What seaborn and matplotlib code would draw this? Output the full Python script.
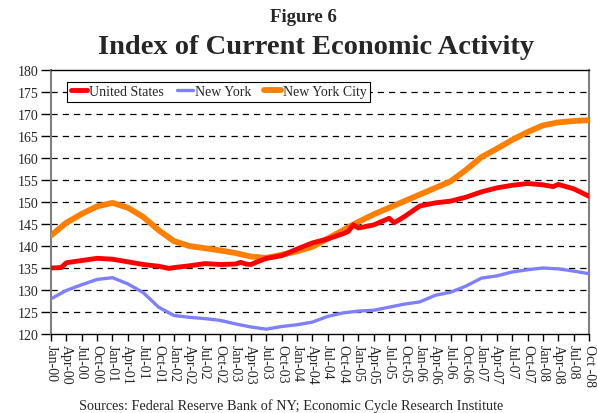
import pandas as pd
import numpy as np
import matplotlib
matplotlib.use('Agg')
import matplotlib.pyplot as plt
import seaborn as sns

sns.set_style('white')
plt.rcParams['font.family'] = ['Liberation Serif', 'DejaVu Serif']

# quarterly points, month index from Jan-00
q_months = list(range(0, 106, 3))

nyc = [142.4, 145.3, 147.3, 149.0, 149.8, 148.7, 146.6, 143.6, 141.1, 140.0,
       139.5, 139.0, 138.4, 137.6, 137.3, 138.0, 138.8, 139.8, 141.7, 143.6,
       145.5, 147.2, 148.7, 150.2, 151.7, 153.2, 154.7, 157.3, 160.2, 162.1,
       164.1, 165.9, 167.4, 168.1, 168.4, 168.6]

ny = [128.0, 129.9, 131.2, 132.4, 132.8, 131.4, 129.4, 126.1, 124.2, 123.8,
      123.5, 123.1, 122.3, 121.6, 121.1, 121.7, 122.1, 122.7, 124.0, 124.8,
      125.2, 125.4, 126.1, 126.8, 127.3, 128.8, 129.5, 130.9, 132.7, 133.2,
      134.1, 134.6, 135.0, 134.8, 134.3, 133.7]

us_months = [0, 2, 3, 6, 9, 12, 15, 18, 21, 23, 24, 27, 30, 33, 36, 37, 38, 39,
             42, 43, 45, 48, 51, 54, 57, 58, 59, 60, 63, 66, 67, 69, 72, 75, 78,
             81, 84, 87, 90, 93, 96, 98, 99, 102, 105]
us = [135.0, 135.1, 136.2, 136.7, 137.2, 137.0, 136.4, 135.8, 135.4, 134.9,
      135.1, 135.5, 136.0, 135.8, 135.9, 136.3, 135.9, 135.8, 137.2, 137.4,
      137.8, 139.3, 140.7, 141.6, 142.8, 143.3, 144.8, 144.1, 144.8, 146.3,
      145.3, 146.7, 149.1, 149.8, 150.2, 151.1, 152.3, 153.2, 153.8, 154.2,
      153.9, 153.5, 154.0, 153.0, 151.3]

tick_labels = ['Jan-00', 'Apr-00', 'Jul-00', 'Oct-00', 'Jan-01', 'Apr-01', 'Jul-01', 'Oct-01',
               'Jan-02', 'Apr-02', 'Jul-02', 'Oct-02', 'Jan-03', 'Apr-03', 'Jul-03', 'Oct-03',
               'Jan-04', 'Apr-04', 'Jul-04', 'Oct-04', 'Jan-05', 'Apr-05', 'Jul-05', 'Oct-05',
               'Jan-06', 'Apr-06', 'Jul-06', 'Oct-06', 'Jan-07', 'Apr-07', 'Jul-07', 'Oct-07',
               'Jan-08', 'Apr-08', 'Jul-08', 'Oct -08']

fig = plt.figure(figsize=(5.97, 4.14), dpi=100)
ax = fig.add_axes([51/597, 1-335/414, 538/597, 264/414])

sns.lineplot(x=q_months, y=nyc, color='#ff8000', lw=4.2, ax=ax, zorder=3,
             label='New York City')
sns.lineplot(x=q_months, y=ny, color='#8080ff', lw=2.4, ax=ax, zorder=4,
             label='New York')
sns.lineplot(x=us_months, y=us, color='#ff0000', lw=3.5, ax=ax, zorder=5,
             label='United States')

for v in range(125, 180, 5):
    ax.axhline(v, color='black', lw=0.9, ls=(0, (5, 4)), zorder=1)

ax.set_xlim(0, 105)
ax.set_ylim(120, 180)
ax.set_yticks(range(120, 181, 5))
ax.set_xticks(q_months)
ax.set_xticklabels(tick_labels, rotation=-90)
ax.tick_params(axis='y', direction='out', length=7, width=1, color='black',
               labelsize=10, pad=2, left=True)
ax.tick_params(axis='x', direction='out', length=5, width=1, color='black',
               labelsize=10, pad=2, bottom=True)

for s in ['top', 'bottom']:
    ax.spines[s].set_color('black')
    ax.spines[s].set_linewidth(1)
for s in ['left', 'right']:
    ax.spines[s].set_color('#808080')
    ax.spines[s].set_linewidth(1.5)

h, l = ax.get_legend_handles_labels()
order = [2, 1, 0]
leg = ax.legend([h[i] for i in order], [l[i] for i in order], ncol=3,
                loc='upper left', bbox_to_anchor=(0.03, 0.955), borderaxespad=0,
                frameon=True, fancybox=False, edgecolor='black', framealpha=1,
                fontsize=10, handlelength=1.2, handletextpad=0.15,
                columnspacing=0.9, borderpad=0.25)
leg.get_frame().set_linewidth(0.8)
ax.set_xlabel('')
ax.set_ylabel('')

fig.text(0.509, 1-17/414, 'Figure 6', ha='center', va='center',
         fontsize=13.5, fontweight='bold')
fig.text(0.530, 1-47/414, 'Index of Current Economic Activity', ha='center',
         va='center', fontsize=20.5, fontweight='bold')
fig.text(0.4875, 1-406/414, 'Sources: Federal Reserve Bank of NY; Economic Cycle Research Institute',
         ha='center', va='center', fontsize=10.3)

fig.savefig('out.png', dpi=100)
